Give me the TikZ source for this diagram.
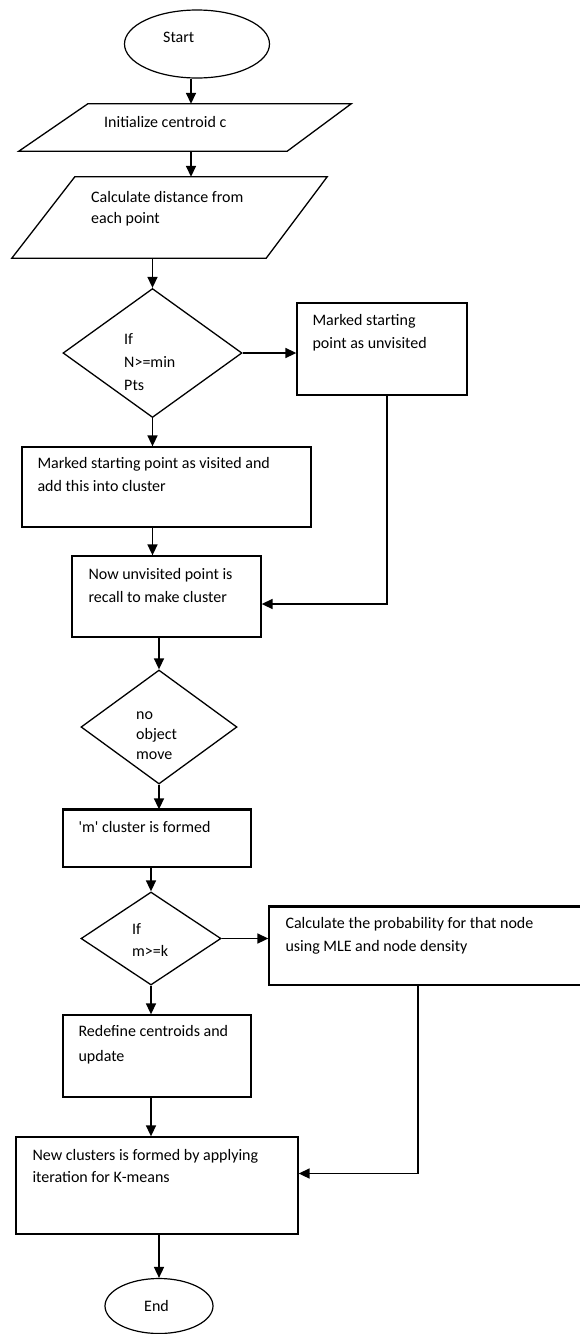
\documentclass[tikz,border=0pt]{standalone}
\usepackage{fontspec}
\setmainfont{Carlito}
\usepackage{tikz}
\usetikzlibrary{arrows.meta}
\usetikzlibrary{calc}
\usetikzlibrary{shapes.geometric}

\newcommand\flowstrut{\vrule width 0pt height 16pt depth 0pt\relax}

\tikzset{
  flowline/.style={line width=1.3pt,line join=miter},
  flowbox/.style={draw,rectangle,flowline,inner sep=0pt},
  flowslot/.style={rectangle,inner sep=0pt},
  flowtest/.style={draw,diamond,flowline,inner sep=0pt},
  flowend/.style={draw,ellipse,line width=1.2pt,inner sep=0pt},
  flowtext/.style={anchor=north west,align=left,inner sep=0pt,font=\fontsize{16}{23}\selectfont},
  flowarrow/.style={draw,line width=1.6pt,-{Triangle[length=11pt,width=10pt]}}
}

\begin{document}
\begin{tikzpicture}[x=1pt,y=-1pt]

  \useasboundingbox (0,0) rectangle (580,1334);

  \node [flowend,minimum width=145pt,minimum height=68pt] (start) at (197,44) {};
  \node [flowtext] (startlab) at ([shift={(-34,-18)}]start.center) {\flowstrut Start};

  % slanted input boxes
  \node [flowslot,minimum width=332pt,minimum height=47pt] (init) at (185,127.5) {};
  \draw [flowline] ([xshift=69pt]init.north west) -- (init.north east)
    -- ([xshift=-64pt]init.south east) -- (init.south west) -- cycle;
  \node [flowtext] (initlab) at ([shift={(-81,-16.5)}]init.center) {\flowstrut Initialize centroid c};

  \node [flowslot,minimum width=315pt,minimum height=81pt] (dist) at (169.5,217.5) {};
  \draw [flowline] ([xshift=63pt]dist.north west) -- (dist.north east)
    -- ([xshift=-61pt]dist.south east) -- (dist.south west) -- cycle;
  \node [flowtext,font=\fontsize{16}{21}\selectfont] (distlab) at ([shift={(-78.5,-31.5)}]dist.center) {\flowstrut Calculate distance from\\each point};

  \node [flowtest,minimum width=179pt,minimum height=129pt] (minpts) at (152.5,353) {};
  \node [flowtext] (minptslab) at ([shift={(-28.5,-25)}]minpts.center) {\flowstrut If\\N>=min\\Pts};

  \node [flowbox,minimum width=170pt,minimum height=92pt] (unvisited) at (382,349) {};
  \node [flowtext] (unvisitedlab) at ([shift={(16,7)}]unvisited.north west) {\flowstrut Marked starting\\point as unvisited};

  \node [flowbox,minimum width=289pt,minimum height=80pt] (visited) at (166.5,487) {};
  \node [flowtext] (visitedlab) at ([shift={(16,6)}]visited.north west) {\flowstrut Marked starting point as visited and\\add this into cluster};

  \node [flowbox,minimum width=189pt,minimum height=81pt] (recall) at (166.5,596.5) {};
  \node [flowtext] (recalllab) at ([shift={(17,8)}]recall.north west) {\flowstrut Now unvisited point is\\recall to make cluster};

  \node [flowtest,minimum width=156pt,minimum height=114pt] (nomove) at (159,727) {};
  \node [flowtext,font=\fontsize{16}{20}\selectfont] (nomovelab) at ([shift={(-23,-24)}]nomove.center) {\flowstrut no\\object\\move};

  \node [flowbox,minimum width=188pt,minimum height=57pt] (formed) at (157,838.5) {};
  \node [flowtext] (formedlab) at ([shift={(16,7)}]formed.north west) {\flowstrut\textquotesingle m\textquotesingle{} cluster is formed};

  \node [flowtest,minimum width=140pt,minimum height=93pt] (mk) at (151,938.5) {};
  \node [flowtext,font=\fontsize{16}{22}\selectfont] (mklab) at ([shift={(-19,-20.5)}]mk.center) {\flowstrut If\\m>=k};

  \node [flowbox,minimum width=360pt,minimum height=78pt] (prob) at (449,946) {};
  \node [flowtext] (problab) at ([shift={(17,6)}]prob.north west) {\flowstrut Calculate the probability for that node\\using MLE and node density};

  \node [flowbox,minimum width=188pt,minimum height=82pt] (redefine) at (157,1056) {};
  \node [flowtext,font=\fontsize{16}{25}\selectfont] (redefinelab) at ([shift={(16,6)}]redefine.north west) {\flowstrut Redefine centroids and\\update};

  \node [flowbox,minimum width=282pt,minimum height=97pt] (kmeans) at (157,1185.5) {};
  \node [flowtext,font=\fontsize{16}{22}\selectfont] (kmeanslab) at ([shift={(17,8)}]kmeans.north west) {\flowstrut New clusters is formed by applying\\iteration for K-means};

  \node [flowend,minimum width=108pt,minimum height=55pt] (stop) at (159,1306) {};
  \node [flowtext] (stoplab) at ([shift={(-15,-11)}]stop.center) {\flowstrut End};

  \draw [line width=3pt] (formed.north west) -- (formed.north east);
  \draw [line width=2.2pt] (prob.north west) -- (prob.north east);

  \path [every edge/.style={flowarrow}]
    ([xshift=-6pt]start.south) edge ([xshift=-6pt]start.south |- init.north)
    ([xshift=6pt]init.south) edge ([xshift=6pt]init.south |- dist.north)
    (dist.south -| minpts.north) edge (minpts.north)
    (minpts.east) edge (minpts.east -| unvisited.west)
    (minpts.south) edge (minpts.south |- visited.north)
    (minpts.south |- visited.south) edge (minpts.south |- recall.north)
    (recall.south -| nomove.north) edge (nomove.north)
    (nomove.south) edge (nomove.south |- formed.north)
    (formed.south -| mk.north) edge (mk.north)
    (mk.east) edge (mk.east -| prob.west)
    (mk.south) edge (mk.south |- redefine.north)
    (mk.south |- redefine.south) edge (mk.south |- kmeans.north)
    (kmeans.south -| stop.north) edge (stop.north);

  \draw [flowarrow] ([xshift=5pt]unvisited.south) |- ([yshift=-7.5pt]recall.east);
  \draw [flowarrow] ([xshift=-31pt]prob.south) |- ([yshift=12pt]kmeans.east);

\end{tikzpicture}
\end{document}
